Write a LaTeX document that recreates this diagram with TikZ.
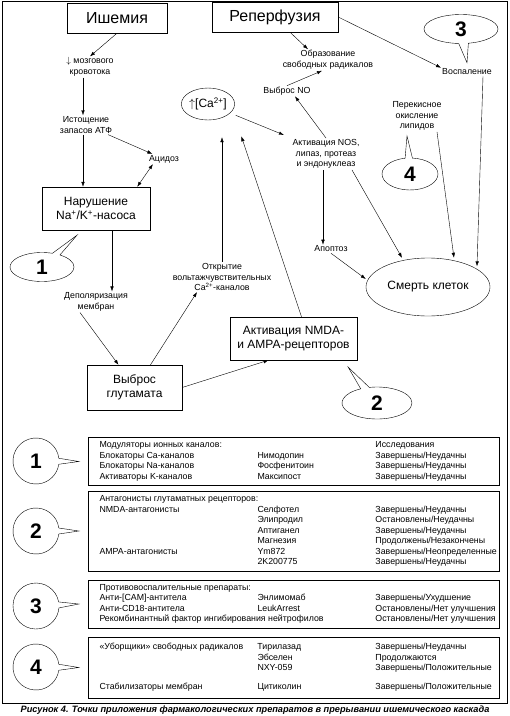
\documentclass[tikz,border=0pt]{standalone}
\usepackage{fontspec}
\setmainfont{Liberation Sans}
\usetikzlibrary{shapes.geometric,shapes.callouts,arrows.meta}

\begin{document}
\begin{tikzpicture}[x=1pt,y=-1pt,
		>={Latex[length=5pt,width=3.5pt]},
		lbl/.style={align=center,inner sep=1pt,font=\fontsize{8.8}{10.8}\selectfont},
		bigbox/.style={draw,align=center,inner sep=2pt,font=\fontsize{12}{14}\selectfont},
		bubble/.style={ellipse callout,draw,inner sep=0pt,font=\fontsize{21}{21}\selectfont\bfseries},
		tabbox/.style={draw,minimum width=411pt,inner xsep=11pt,inner ysep=2pt,font=\fontsize{8.8}{10.5}\selectfont}]
		\useasboundingbox (0,0) rectangle (510,716);
		\draw (2,1) rectangle (507,703);

		% cascade
		\node[bigbox,minimum width=100pt,minimum height=30pt,font=\fontsize{16}{18}\selectfont] (ish) at (117,18) {Ишемия};
		\node[bigbox,minimum width=126pt,minimum height=30pt,font=\fontsize{16}{18}\selectfont] (rep) at (275,17) {Реперфузия};
		\node[lbl] (flow) at (90,67) {$\downarrow$ мозгового\\кровотока};
		\node[lbl] (atp) at (86,125) {Истощение\\запасов АТФ};
		\node[lbl] (acid) at (164,159) {Ацидоз};
		\node[bigbox,minimum width=108pt,minimum height=43pt] (pump) at (96,208.5) {Нарушение\\Na\textsuperscript{+}/K\textsuperscript{+}-насоса};
		\node[lbl] (depol) at (96,302) {Деполяризация\\мембран};
		\node[bigbox,minimum width=95pt,minimum height=45pt] (glu) at (134.5,387.5) {Выброс\\глутамата};
		\node[lbl] (vdcc) at (222,277) {Открытие\\вольтажчувствительных\\Ca\textsuperscript{2+}-каналов};
		\node[draw,ellipse,minimum width=50pt,minimum height=32pt,inner sep=0pt,font=\fontsize{12}{14}\selectfont] (ca) at (208,104) {$\uparrow$[Ca\textsuperscript{2+}]};
		\node[bigbox,minimum width=127pt,minimum height=43pt] (nmda) at (293.5,338.5) {Активация NMDA-\\и AMPA-рецепторов};
		\node[lbl] (nos) at (326,154) {Активация NOS,\\липаз, протеаз\\и эндонуклеаз};
		\node[lbl] (no) at (287,91) {Выброс NO};
		\node[lbl] (rad) at (328,60) {Образование\\свободных радикалов};
		\node[lbl] (infl) at (467,72) {Воспаление};
		\node[lbl] (lpo) at (417,116) {Перекисное\\окисление\\липидов};
		\node[lbl] (apop) at (331,249) {Апоптоз};
		\node[draw,ellipse,minimum width=108pt,minimum height=58pt,font=\fontsize{12}{14}\selectfont] (death) at (428,287) {Смерть клеток};

		\draw[->] (ish.south) -- (flow.north);
		\draw[->] ([xshift=-3pt]atp.north |- flow.south) -- ([xshift=-3pt]atp.north);
		\draw[->] (atp) -- (acid);
		\draw[->] ([xshift=-3pt]atp.south) -- ([xshift=-3pt]atp.south |- pump.north);
		\draw[<->] ([xshift=-13pt]pump.north east) -- ([xshift=5pt]acid.south west);
		\draw[->] ([xshift=16pt]pump.south) -- ([xshift=16pt]depol.north);
		\draw[->] ([xshift=-16pt]depol.south) -- ([xshift=-16pt]glu.north);
		\draw[->] ([xshift=16pt]glu.north) -- ([xshift=-25pt]vdcc.south);
		\draw[->,shorten >=17pt] (vdcc.north) -- (vdcc.north |- ca.south);
		\draw[->,shorten >=17pt] ([xshift=8pt]nmda.north) -- ([xshift=28pt]ca.south);
		\draw[->] (glu.east) -- ([xshift=-25pt]nmda.south);
		\draw[->,shorten <=6pt,shorten >=8pt] (ca) -- (nos.north west);
		\draw[->] (nos.north) -- ([xshift=8pt]no.south);
		\draw[->] (no.north) -- ([xshift=-6pt]rad.south);
		\draw[->] ([xshift=15pt]rep.south) -- ([xshift=-20pt]rad.north);
		\draw[->] (rep.east) -- (infl.north west);
		\draw[->] ([xshift=16pt]infl.south) -- ([xshift=5pt]death.north east);
		\draw[->] ([xshift=20pt]lpo.south) -- ([xshift=26pt]death.north);
		\draw[->] ([xshift=-3pt]nos.south) -- ([xshift=-8pt]apop.north);
		\draw[->] ([xshift=26pt]nos.south) -- ([xshift=-26pt]death.north);
		\draw[->] (apop.south) -- ([yshift=8pt]death.west);

		\node[bubble,minimum width=64pt,minimum height=29pt,callout absolute pointer={([xshift=-19pt,yshift=-5pt]pump.south)}] (b1) at (42,267) {1};
		\node[bubble,minimum width=70pt,minimum height=32pt,callout absolute pointer={([xshift=-9pt,yshift=-7pt]nmda.south east)}] (b2) at (377,403) {2};
		\node[bubble,minimum width=74pt,minimum height=29pt,callout absolute pointer={([yshift=5pt]infl.north)}] (b3) at (461,29) {3};
		\node[bubble,minimum width=56pt,minimum height=32pt,callout absolute pointer={([xshift=-10pt,yshift=-4pt]lpo.south)}] (b4) at (410,174) {4};

		% drugs
		\node[tabbox,minimum height=48pt] (tab1) at (293.5,461.5) {\begin{tabular}{@{}p{158pt}@{}p{118pt}@{}p{112pt}@{}}
				Модуляторы ионных каналов: & & Исследования\\
				Блокаторы Ca-каналов & Нимодопин & Завершены/Неудачны\\
				Блокаторы Na-каналов & Фосфенитоин & Завершены/Неудачны\\
				Активаторы K-каналов & Максипост & Завершены/Неудачны
			\end{tabular}};
		\node[tabbox,minimum height=80pt] (tab2) at (293.5,531) {\begin{tabular}{@{}p{158pt}@{}p{118pt}@{}p{112pt}@{}}
				\multicolumn{3}{@{}l@{}}{Антагонисты глутаматных рецепторов:}\\
				NMDA-антагонисты & Селфотел & Завершены/Неудачны\\
				& Элипродил & Остановлены/Неудачны\\
				& Аптиганел & Завершены/Неудачны\\
				& Магнезия & \mbox{Продолжены/Незакончены}\\
				АМРА-антагонисты & Ym872 & \mbox{Завершены/Неопределенные}\\
				& 2K200775 & Завершены/Неудачны
			\end{tabular}};
		\node[tabbox,minimum height=48pt] (tab3) at (293.5,604) {\begin{tabular}{@{}p{158pt}@{}p{118pt}@{}p{112pt}@{}}
				\multicolumn{3}{@{}l@{}}{Противовоспалительные препараты:}\\
				Анти-[CAM]-антитела & Энлимомаб & \mbox{Завершены/Ухудшение}\\
				Анти-CD18-антитела & LeukArrest & \mbox{Остановлены/Нет улучшения}\\
				\multicolumn{2}{@{}p{276pt}@{}}{Рекомбинантный фактор ингибирования нейтрофилов} & \mbox{Остановлены/Нет улучшения}
			\end{tabular}};
		\node[tabbox,minimum height=61pt] (tab4) at (293.5,667.5) {\begin{tabular}{@{}p{158pt}@{}p{118pt}@{}p{112pt}@{}}
				«Уборщики» свободных радикалов & Тирилазад & Завершены/Неудачны\\
				& Эбселен & Продолжаются\\
				& NXY-059 & \mbox{Завершены/Положительные}\\[8pt]
				Стабилизаторы мембран & Цитиколин & \mbox{Завершены/Положительные}
			\end{tabular}};

		\node[bubble,minimum width=46pt,minimum height=46pt,callout absolute pointer={([xshift=-9pt]tab1.west)}] (c1) at (36,461) {1};
		\node[bubble,minimum width=46pt,minimum height=46pt,callout absolute pointer={([xshift=-9pt]tab2.west)}] (c2) at (36,531) {2};
		\node[bubble,minimum width=46pt,minimum height=46pt,callout absolute pointer={([xshift=-9pt]tab3.west)}] (c3) at (36,606) {3};
		\node[bubble,minimum width=46pt,minimum height=46pt,callout absolute pointer={([xshift=-9pt]tab4.west)}] (c4) at (36,667) {4};

		\node[font=\fontsize{9.2}{11}\selectfont\bfseries\itshape] (cap) at (255,710) {Рисунок 4. Точки приложения фармакологических препаратов в прерывании ишемического каскада};
	\end{tikzpicture}
\end{document}
